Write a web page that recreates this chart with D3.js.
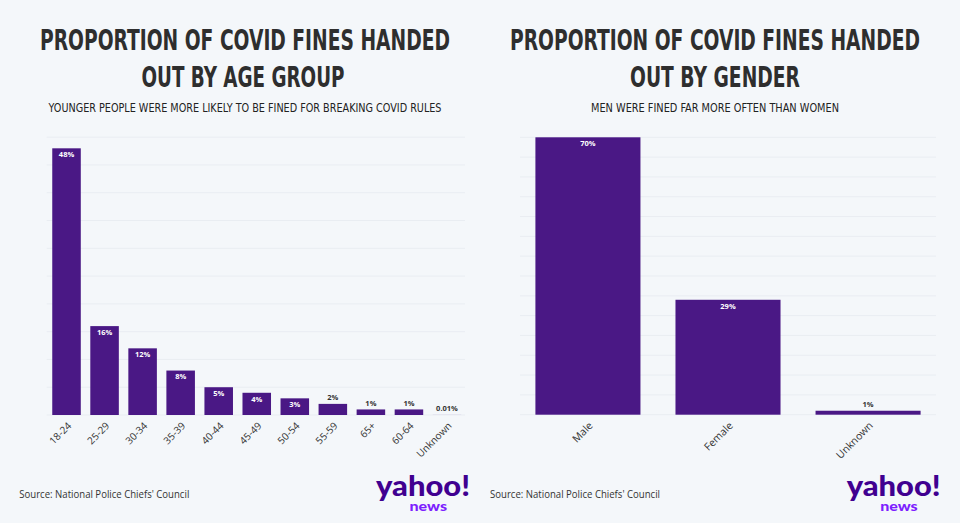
<!DOCTYPE html>
<html>
<head>
<meta charset="utf-8">
<script src="https://cdn.jsdelivr.net/npm/d3@7"></script>
<style>
  html, body { margin: 0; padding: 0; background: #f4f7fa; }
  svg { display: block; }
</style>
</head>
<body>
<svg id="chart" width="960" height="523"></svg>
<script>
// ---- data ----
const ageCategories = ["18-24", "25-29", "30-34", "35-39", "40-44", "45-49", "50-54", "55-59", "65+", "60-64", "Unknown"];
const ageValues = [48, 16, 12, 8, 5, 4, 3, 2, 1, 1, 0.01];
const ageValueLabels = ["48%", "16%", "12%", "8%", "5%", "4%", "3%", "2%", "1%", "1%", "0.01%"];
const ageGridTicks = [0, 5, 10, 15, 20, 25, 30, 35, 40, 45, 50];

const genderCategories = ["Male", "Female", "Unknown"];
const genderValues = [70, 29, 1];
const genderValueLabels = ["70%", "29%", "1%"];
const genderGridTicks = [0, 5, 10, 15, 20, 25, 30, 35, 40, 45, 50, 55, 60, 65, 70];

const titleLine1 = "PROPORTION OF COVID FINES HANDED";
const ageTitleLine2 = "OUT BY AGE GROUP";
const genderTitleLine2 = "OUT BY GENDER";
const ageSubtitle = "YOUNGER PEOPLE WERE MORE LIKELY TO BE FINED FOR BREAKING COVID RULES";
const genderSubtitle = "MEN WERE FINED FAR MORE OFTEN THAN WOMEN";
const sourceText = "Source: National Police Chiefs' Council";

// ---- styles ----
const BAR = "#4a1885";
const GRID = "#e9edf2";
const TEXT = "#333333";
const heavyCondensed = "'DejaVu Sans Condensed', 'Liberation Sans Narrow', sans-serif";
const condensed = "'Liberation Sans Narrow', 'DejaVu Sans Condensed', sans-serif";
const sans = "'Open Sans', 'Noto Sans', sans-serif";

const svg = d3.select("#chart");
svg.append("rect").attr("width", 960).attr("height", 523).attr("fill", "#f4f7fa");

function panel(opts) {
  const g = svg.append("g");
  // titles
  g.append("text").text(titleLine1)
    .attr("x", opts.cx).attr("y", 50).attr("text-anchor", "middle")
    .attr("font-family", heavyCondensed).attr("font-weight", "bold").attr("font-size", 28)
    .attr("fill", "#2e2e2e").attr("textLength", 410).attr("lengthAdjust", "spacingAndGlyphs");
  g.append("text").text(opts.title2)
    .attr("x", opts.cx2).attr("y", 87.3).attr("text-anchor", "middle")
    .attr("font-family", heavyCondensed).attr("font-weight", "bold").attr("font-size", 28)
    .attr("fill", "#2e2e2e").attr("textLength", opts.title2Len).attr("lengthAdjust", "spacingAndGlyphs");
  g.append("text").text(opts.subtitle)
    .attr("x", opts.cx).attr("y", 112.3).attr("text-anchor", "middle")
    .attr("font-family", condensed).attr("font-size", 12.5)
    .attr("fill", "#222").attr("textLength", opts.subLen).attr("lengthAdjust", "spacingAndGlyphs");

  const x = d3.scaleBand().domain(opts.categories).range(opts.xRange)
    .paddingInner(0.25).paddingOuter(opts.padOuter);
  const y = d3.scaleLinear().domain(opts.yDomain).range(opts.yRange);

  // grid
  g.append("g").selectAll("line").data(opts.gridTicks).join("line")
    .attr("x1", opts.gridX[0]).attr("x2", opts.gridX[1])
    .attr("y1", d => y(d)).attr("y2", d => y(d))
    .attr("stroke", GRID).attr("stroke-width", 1);

  const data = opts.categories.map((c, i) => ({ c, v: opts.values[i], l: opts.labels[i] }));

  // bars
  g.append("g").selectAll("rect").data(data).join("rect")
    .attr("x", d => x(d.c)).attr("width", x.bandwidth())
    .attr("y", d => y(d.v)).attr("height", d => y(0) - y(d.v))
    .attr("fill", BAR);

  // value labels
  g.append("g").selectAll("text").data(data).join("text")
    .attr("x", d => x(d.c) + x.bandwidth() / 2)
    .attr("y", d => (y(0) - y(d.v) > 14) ? y(d.v) + 8.8 : y(d.v) - 3.8)
    .attr("text-anchor", "middle")
    .attr("font-family", sans).attr("font-weight", "bold").attr("font-size", 7.5)
    .attr("fill", d => (y(0) - y(d.v) > 14) ? "#ffffff" : TEXT)
    .text(d => d.l);

  // x axis labels
  const axis = d3.axisBottom(x).tickSize(0).tickPadding(0);
  const ax = g.append("g").attr("transform", `translate(0,${y(0)})`).call(axis);
  ax.select(".domain").remove();
  ax.selectAll(".tick text")
    .attr("font-family", sans).attr("font-size", opts.tickSize).attr("fill", TEXT)
    .attr("text-anchor", "end")
    .attr("transform", `translate(${opts.tickDx},${opts.tickDy}) rotate(-45)`)
    .attr("y", 0).attr("dy", "0.35em");

  // source
  g.append("text").text(sourceText)
    .attr("x", opts.srcX).attr("y", 498.3)
    .attr("font-family", sans).attr("font-size", 10).attr("fill", TEXT)
    .attr("textLength", 170).attr("lengthAdjust", "spacingAndGlyphs");

  // logo
  g.append("text").text("yahoo!")
    .attr("x", opts.logoX).attr("y", 496)
    .attr("font-family", "Lato, Inter, sans-serif").attr("font-weight", 900).attr("font-size", 29)
    .attr("fill", "#400090").attr("textLength", 94).attr("lengthAdjust", "spacingAndGlyphs");
  g.append("text").text("news")
    .attr("x", opts.logoX + 33.5).attr("y", 511)
    .attr("font-family", "Lato, Inter, sans-serif").attr("font-weight", 900).attr("font-size", 13)
    .attr("fill", "#7e1fff").attr("textLength", 37.5).attr("lengthAdjust", "spacingAndGlyphs");
}

panel({
  cx: 245, cx2: 243, title2: ageTitleLine2, title2Len: 203, subtitle: ageSubtitle, subLen: 393,
  categories: ageCategories, values: ageValues, labels: ageValueLabels, gridTicks: ageGridTicks,
  xRange: [47.5, 466], padOuter: 0.125, gridX: [46.7, 465],
  yDomain: [0, 50], yRange: [415, 137.2],
  tickSize: 10, tickDx: 3, tickDy: 9,
  srcX: 19.3, logoX: 376
});

panel({
  cx: 715, cx2: 715, title2: genderTitleLine2, title2Len: 170, subtitle: genderSubtitle, subLen: 248,
  categories: genderCategories, values: genderValues, labels: genderValueLabels, gridTicks: genderGridTicks,
  xRange: [520, 936], padOuter: 0.11, gridX: [520, 936],
  yDomain: [0, 70], yRange: [414.7, 137.3],
  tickSize: 10.5, tickDx: 3, tickDy: 9,
  srcX: 490, logoX: 846.7
});
</script>
</body>
</html>
